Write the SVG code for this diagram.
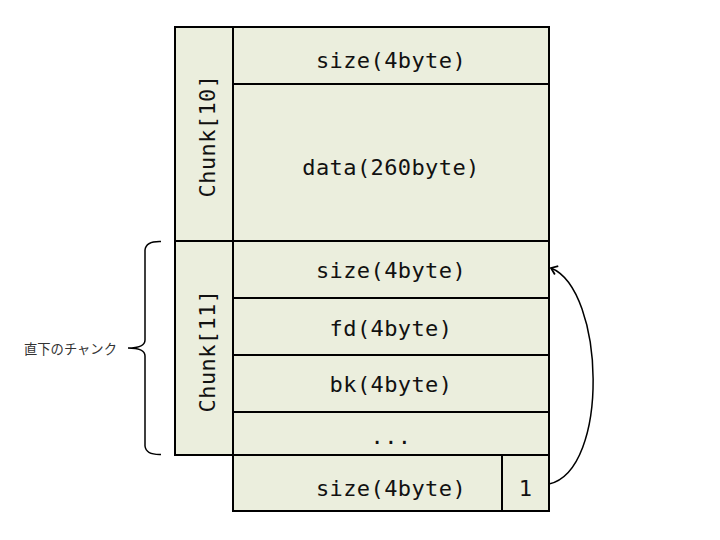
<svg xmlns="http://www.w3.org/2000/svg" width="720" height="540" viewBox="0 0 720 540">
<style>
.cell{fill:#ebeedd;stroke:#000;stroke-width:2}
.t{font-family:"DejaVu Sans Mono","Liberation Mono",monospace;font-size:22px;letter-spacing:0.4px;fill:#111;text-anchor:middle}
.jp{font-family:"Noto Sans CJK JP","Noto Sans",sans-serif;font-size:13.3px;fill:#333}
.line{fill:none;stroke:#000;stroke-width:1.5}
</style>
<defs>
<marker id="arr" markerWidth="10" markerHeight="12" refX="8" refY="6" orient="auto" markerUnits="userSpaceOnUse">
<path d="M2,1.5 L8,6 L2,10.5" fill="none" stroke="#000" stroke-width="1.8"/>
</marker>
</defs>
<rect width="720" height="540" fill="#fff"/>
<g id="chunk10">
<rect class="cell" x="175" y="27" width="58" height="214"/>
<text class="t" transform="translate(215,136) rotate(-90)">Chunk[10]</text>
<rect class="cell" x="233" y="27" width="316" height="57"/>
<text class="t" x="391" y="68">size(4byte)</text>
<rect class="cell" x="233" y="84" width="316" height="157"/>
<text class="t" x="391" y="175">data(260byte)</text>
</g>
<g id="chunk11">
<rect class="cell" x="175" y="241" width="58" height="214"/>
<text class="t" transform="translate(215,351) rotate(-90)">Chunk[11]</text>
<rect class="cell" x="233" y="241" width="316" height="57"/>
<text class="t" x="391" y="278">size(4byte)</text>
<rect class="cell" x="233" y="298" width="316" height="57"/>
<text class="t" x="391" y="336">fd(4byte)</text>
<rect class="cell" x="233" y="355" width="316" height="57"/>
<text class="t" x="391" y="392">bk(4byte)</text>
<rect class="cell" x="233" y="412" width="316" height="43"/>
<text class="t" x="391" y="444">...</text>
</g>
<g id="nextsize">
<rect class="cell" x="233" y="455" width="269" height="56"/>
<text class="t" x="391" y="496">size(4byte)</text>
<rect class="cell" x="502" y="455" width="47" height="56"/>
<text class="t" x="525.5" y="496">1</text>
</g>
<g id="brace">
<path class="line" d="M161,241.5 Q146,241 145,250 L145,340 Q145,348 128,348 Q145,348 145,356 L145,446 Q146,455 161,454.5"/>
<text class="jp" x="24" y="354">直下のチャンク</text>
</g>
<g id="connectors">
<path class="line" d="M549,484 C610,470 605,290 551,268" marker-end="url(#arr)"/>
</g>
</svg>
